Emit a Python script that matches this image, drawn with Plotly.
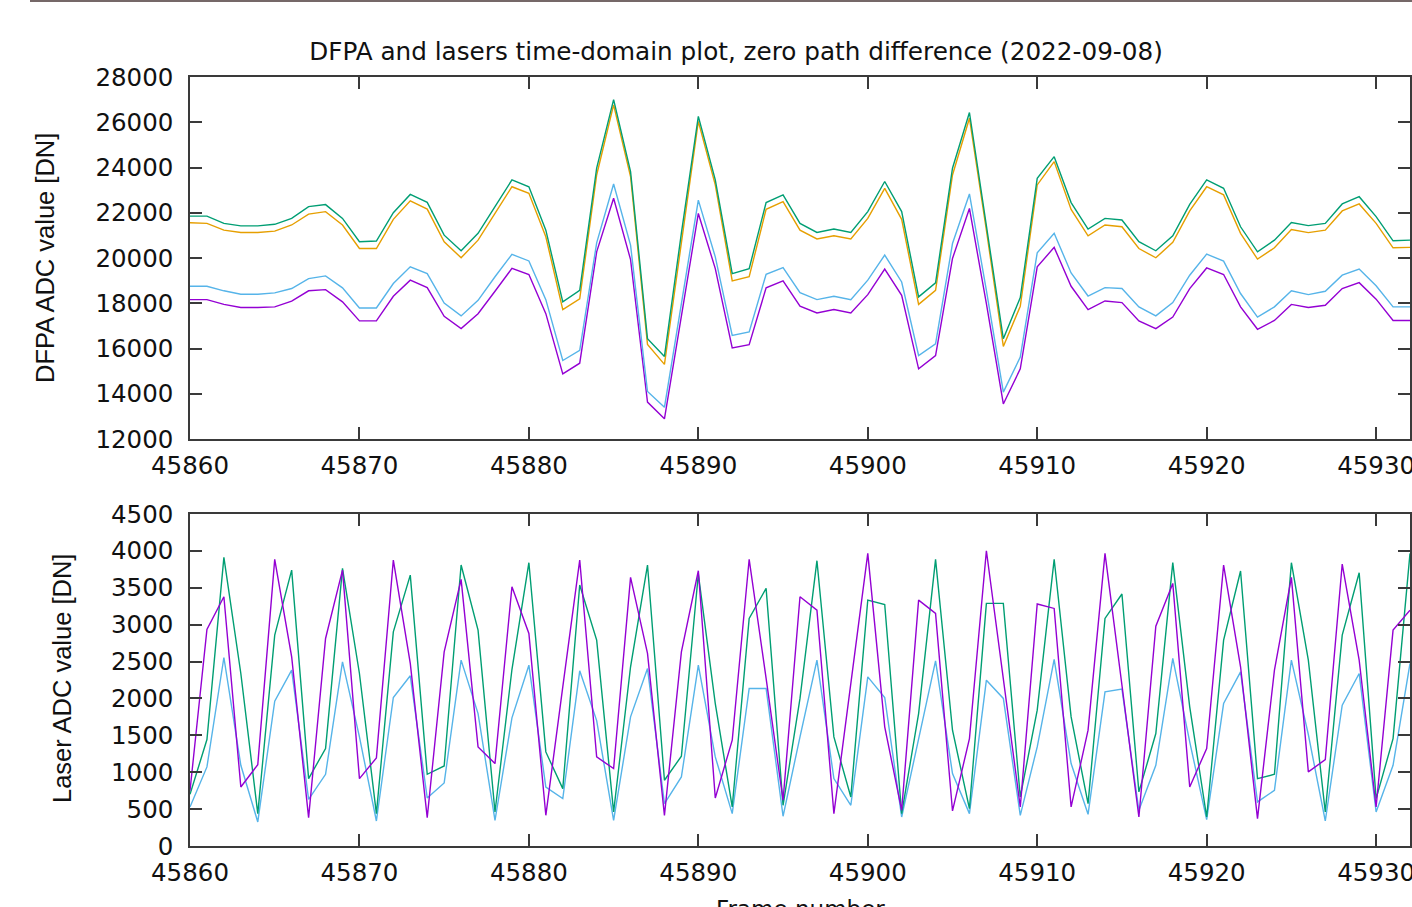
import plotly.graph_objects as go

# ---------------- data ----------------
frames = list(range(45860, 45933))

dfpa_green = [21850, 21850, 21530, 21420, 21420, 21490, 21750, 22270, 22360, 21750,
              20720, 20750, 22000, 22810, 22460, 21010, 20320, 21090, 22270, 23450,
              23150, 21230, 18060, 18570, 23970, 27000, 23820, 16430, 15650, 21100,
              26260, 23450, 19310, 19530, 22450, 22790, 21530, 21130, 21280, 21130,
              22050, 23380, 22050, 18280, 18900, 23970, 26430, 21530, 16430, 18250,
              23520, 24480, 22450, 21280, 21750, 21680, 20720, 20320, 20980, 22370,
              23450, 23080, 21380, 20270, 20790, 21570, 21430, 21530, 22390, 22710,
              21830, 20760, 20790]

dfpa_orange = [21560, 21530, 21230, 21130, 21130, 21190, 21460, 21940, 22050, 21460,
               20420, 20420, 21710, 22530, 22160, 20720, 20010, 20790, 21970, 23150,
               22860, 20940, 17720, 18200, 23670, 26770, 23600, 16180, 15300, 20790,
               26040, 23230, 18990, 19170, 22150, 22490, 21230, 20840, 20980, 20840,
               21750, 23080, 21710, 17950, 18570, 23670, 26180, 21230, 16090, 17870,
               23230, 24260, 22150, 20980, 21460, 21380, 20420, 20010, 20690, 22080,
               23150, 22790, 21090, 19950, 20450, 21260, 21120, 21230, 22080, 22390,
               21530, 20450, 20470]

dfpa_blue = [18750, 18750, 18550, 18400, 18400, 18460, 18650, 19090, 19210, 18680,
             17790, 17790, 18870, 19610, 19310, 18010, 17440, 18130, 19170, 20160,
             19870, 18160, 15470, 15920, 20670, 23270, 20570, 14100, 13400, 17980,
             22560, 20050, 16580, 16730, 19280, 19580, 18470, 18160, 18310, 18160,
             19020, 20130, 18940, 15690, 16210, 20640, 22830, 18570, 14070, 15620,
             20230, 21090, 19340, 18320, 18690, 18650, 17840, 17440, 18030, 19240,
             20170, 19860, 18430, 17390, 17840, 18550, 18380, 18530, 19240, 19510,
             18770, 17840, 17840]

dfpa_purple = [18160, 18160, 17950, 17810, 17810, 17840, 18090, 18550, 18600, 18060,
               17220, 17220, 18310, 19020, 18690, 17420, 16880, 17540, 18530, 19540,
               19270, 17540, 14880, 15350, 20270, 22640, 19930, 13630, 12890, 17390,
               21970, 19530, 16030, 16170, 18680, 18990, 17870, 17570, 17720, 17570,
               18380, 19510, 18350, 15100, 15690, 19980, 22190, 17980, 13550, 15100,
               19610, 20470, 18750, 17720, 18100, 18030, 17220, 16880, 17390, 18650,
               19560, 19270, 17840, 16850, 17240, 17950, 17810, 17910, 18650, 18910,
               18180, 17240, 17240]

laser_purple = [750, 2935, 3378, 800, 1103, 3885, 2564, 384, 2813, 3740,
                913, 1194, 3876, 2474, 384, 2632, 3613, 1343, 1117, 3514,
                2881, 416, 2157, 3876, 1207, 1049, 3641, 2610, 416, 2632,
                3731, 651, 1434, 3886, 2271, 620, 3378, 3197, 439, 2203,
                3967, 1615, 484, 3333, 3152, 475, 1456, 4002, 2248, 529,
                3280, 3220, 529, 1570, 3967, 2157, 393, 2980, 3559, 800,
                1321, 3808, 2429, 371, 2383, 3641, 1004, 1171, 3822, 2519,
                529, 2926, 3197]

laser_green = [700, 1443, 3912, 2338, 439, 2858, 3740, 913, 1321, 3763,
               2338, 439, 2903, 3672, 972, 1085, 3808, 2926, 461, 2392,
               3840, 1275, 778, 3537, 2790, 461, 2429, 3808, 891, 1217,
               3686, 1931, 529, 3085, 3492, 552, 2000, 3867, 1479, 665,
               3334, 3274, 439, 1795, 3885, 1569, 507, 3288, 3288, 665,
               1841, 3886, 1750, 575, 3085, 3416, 733, 1524, 3840, 1886,
               393, 2790, 3727, 913, 972, 3840, 2519, 461, 2858, 3704,
               642, 1456, 3966]

laser_blue = [529, 1072, 2555, 1094, 326, 1963, 2383, 633, 972, 2496,
              1479, 339, 2013, 2307, 651, 855, 2519, 1795, 348, 1737,
              2451, 800, 643, 2374, 1700, 348, 1750, 2406, 574, 936,
              2451, 1208, 439, 2135, 2135, 403, 1479, 2520, 914, 552,
              2293, 2013, 393, 1434, 2510, 981, 439, 2248, 2000, 416,
              1343, 2529, 1118, 430, 2089, 2126, 484, 1094, 2542, 1411,
              357, 1931, 2361, 597, 755, 2519, 1511, 339, 1909, 2338,
              461, 1094, 2474]

x_ticks = [45860, 45870, 45880, 45890, 45900, 45910, 45920, 45930]
top_y_ticks = [12000, 14000, 16000, 18000, 20000, 22000, 24000, 26000, 28000]
bottom_y_ticks = [0, 500, 1000, 1500, 2000, 2500, 3000, 3500, 4000, 4500]

title_text = "DFPA and lasers time-domain plot, zero path difference (2022-09-08)"

# ---------------- styles ----------------
C_PURPLE = "#9400D3"
C_GREEN = "#009E73"
C_BLUE = "#56B4E9"
C_ORANGE = "#E69F00"
AXC = "#3a3a3a"
LW = 1.4

fig = go.Figure()

for vals, col in [(dfpa_purple, C_PURPLE), (dfpa_blue, C_BLUE),
                  (dfpa_orange, C_ORANGE), (dfpa_green, C_GREEN)]:
    fig.add_trace(go.Scatter(x=frames, y=vals, mode="lines",
                             line=dict(color=col, width=LW),
                             xaxis="x", yaxis="y", showlegend=False,
                             hoverinfo="skip"))

for vals, col in [(laser_blue, C_BLUE), (laser_green, C_GREEN),
                  (laser_purple, C_PURPLE)]:
    fig.add_trace(go.Scatter(x=frames, y=vals, mode="lines",
                             line=dict(color=col, width=LW),
                             xaxis="x2", yaxis="y2", showlegend=False,
                             hoverinfo="skip"))

tickfont = dict(family="DejaVu Sans", size=24.5, color="#111111")

common_x = dict(range=[45860, 45932], tickvals=x_ticks, tickformat="d",
                ticks="inside", ticklen=12, tickwidth=1.5, tickcolor=AXC,
                showline=True, linecolor=AXC, linewidth=1.5, mirror="ticks",
                showgrid=False, zeroline=False, tickfont=tickfont,
                ticklabelstandoff=4, ticklabeloverflow="allow", automargin=False)
common_y = dict(tickformat="d", ticks="inside", ticklen=12, tickwidth=1.5,
                tickcolor=AXC, showline=True, linecolor=AXC, linewidth=1.5,
                mirror="ticks", showgrid=False, zeroline=False,
                tickfont=tickfont, ticklabelstandoff=10,
                ticklabeloverflow="allow", automargin=False)

fig.update_layout(
    width=1412, height=907,
    margin=dict(l=190, r=2, t=77, b=61),
    paper_bgcolor="white", plot_bgcolor="white",
    title=dict(text=title_text, x=736 / 1412, xref="container", xanchor="center",
               y=1 - 51 / 907, yref="container", yanchor="middle",
               font=dict(family="DejaVu Sans", size=24.7, color="#111111")),
    xaxis=dict(domain=[0, 1], anchor="y", **common_x),
    yaxis=dict(domain=[0.52926, 1], anchor="x", range=[12000, 28000],
               tickvals=top_y_ticks, **common_y),
    xaxis2=dict(domain=[0, 1], anchor="y2", **common_x),
    yaxis2=dict(domain=[0, 0.43173], anchor="x2", range=[0, 4500],
                tickvals=bottom_y_ticks, **common_y),
    shapes=[dict(type="line", xref="paper", yref="paper",
                 x0=(30 - 190) / 1220, x1=(1412 - 190) / 1220,
                 y0=1 + 76 / 769, y1=1 + 76 / 769,
                 line=dict(color="#756868", width=2))],
    annotations=[
        dict(text="DFPA ADC value [DN]", textangle=-90, xref="paper", yref="paper",
             x=(45 - 190) / 1220, y=(846 - 258) / 769, xanchor="center",
             yanchor="middle", showarrow=False,
             font=dict(family="Liberation Sans", size=25.5, color="#111111")),
        dict(text="Laser ADC value [DN]", textangle=-90, xref="paper", yref="paper",
             x=(62 - 190) / 1220, y=(846 - 679) / 769, xanchor="center",
             yanchor="middle", showarrow=False,
             font=dict(family="Liberation Sans", size=25.5, color="#111111")),
        dict(text="Frame number", xref="paper", yref="paper",
             x=0.5, y=-(894 - 846) / 769, xanchor="center", yanchor="top",
             showarrow=False,
             font=dict(family="DejaVu Sans", size=23, color="#111111")),
    ],
)

fig.write_html("out.html", config={"displayModeBar": False},
               post_script="document.body.style.margin='0';")
